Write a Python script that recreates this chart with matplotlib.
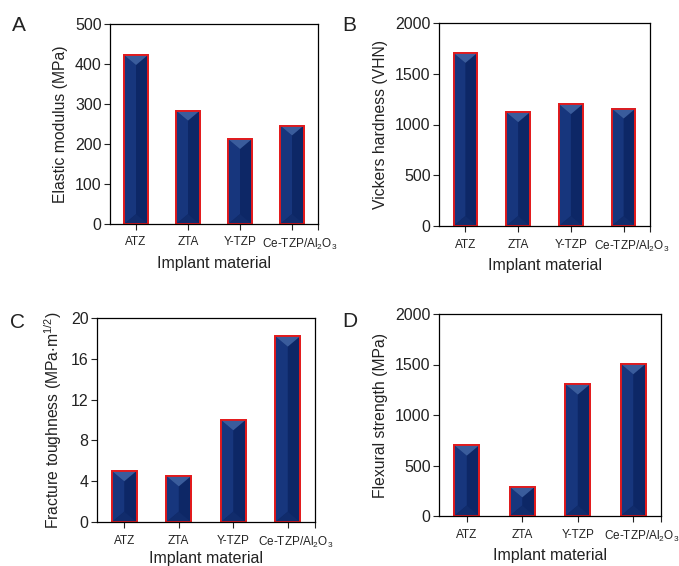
import matplotlib
matplotlib.use('Agg')
import matplotlib.pyplot as plt
import matplotlib.transforms as mtransforms
from matplotlib.patches import Polygon
import numpy as np

plt.rcParams['font.family'] = ['Liberation Sans', 'DejaVu Sans']
plt.rcParams['mathtext.default'] = 'regular'
plt.rcParams['text.color'] = '#222222'
plt.rcParams['axes.labelcolor'] = '#222222'
plt.rcParams['xtick.color'] = '#222222'
plt.rcParams['ytick.color'] = '#222222'

materials = ['ATZ', 'ZTA', 'Y-TZP', 'Ce-TZP/Al$_2$O$_3$']
elastic_modulus = [422, 283, 212, 246]
vickers_hardness = [1705, 1121, 1200, 1157]
fracture_toughness = [5.0, 4.5, 10.0, 18.2]
flexural_strength = [701, 288, 1306, 1507]

W, H = 679, 566
fig = plt.figure(figsize=(W / 100, H / 100), dpi=100)


def px_axes(left, right, top, bottom):
    return fig.add_axes([left / W, 1 - bottom / H, (right - left) / W, (bottom - top) / H])


panels = [
    (px_axes(110, 318, 24, 224), elastic_modulus, 'Elastic modulus (MPa)', 500, 100, 'A', (12, 31), 3),
    (px_axes(439, 650, 23, 226), vickers_hardness, 'Vickers hardness (VHN)', 2000, 500, 'B', (342, 31), 3),
    (px_axes(97, 315, 318, 522), fracture_toughness, 'Fracture toughness (MPa$\\cdot$m$^{1/2}$)', 20, 4, 'C', (10, 328), 1),
    (px_axes(439, 661, 314, 516), flexural_strength, 'Flexural strength (MPa)', 2000, 500, 'D', (342, 327), 3),
]

bw = 0.45
x = np.arange(len(materials))

for ax, vals, ylabel, ymax, step, letter, lpos, xpad in panels:
    ax.set_xlim(-0.5, 3.5)
    ax.set_ylim(0, ymax)
    ax.bar(x, vals, width=bw, color='#0d2766', edgecolor='#e31a1c', linewidth=1.3, zorder=2)

    # bevel shading, sized in pixels of this axes
    bb = ax.get_window_extent()
    y_per_px = ymax / bb.height
    x_per_px = 4.0 / bb.width
    bw_px = bw / x_per_px
    depth = 0.42 * bw_px * y_per_px
    for xi, v in zip(x, vals):
        l, r, c = xi - bw / 2, xi + bw / 2, xi
        ax.add_patch(Polygon([(l, 0), (c, depth), (c, v - depth), (l, v)],
                             closed=True, facecolor='#17367d', edgecolor='none', zorder=2.1))
        ax.add_patch(Polygon([(l, v), (r, v), (c, v - depth)],
                             closed=True, facecolor='#3a5c9c', edgecolor='none', zorder=2.2))
        ax.add_patch(Polygon([(l, 0), (r, 0), (c, depth)],
                             closed=True, facecolor='#112c6c', edgecolor='none', zorder=2.2))
        ax.bar(xi, v, width=bw, facecolor='none', edgecolor='#e31a1c', linewidth=1.3, zorder=2.5)

    ax.set_yticks(np.arange(0, ymax + step, step))
    ax.set_xticks(list(x) + [3.5])
    ax.set_xticklabels(materials + [''])
    ax.tick_params(axis='x', labelsize=8.5, length=4, width=0.8, direction='out', pad=5)
    ax.tick_params(axis='y', labelsize=11.5, length=4, width=0.8, direction='out', pad=2)
    # last label sits a little right of its tick, as in the source figure
    shift = mtransforms.ScaledTranslation(8 / 100, 0, fig.dpi_scale_trans)
    last = ax.get_xticklabels()[3]
    last.set_transform(last.get_transform() + shift)
    for s in ax.spines.values():
        s.set_linewidth(0.9)
        s.set_color('black')
    ax.set_xlabel('Implant material', fontsize=11.5, labelpad=xpad)
    ax.set_ylabel(ylabel, fontsize=11.3, labelpad=5)
    fig.text(lpos[0] / W, 1 - lpos[1] / H, letter, fontsize=15, color='#222222')

fig.savefig('out.png', dpi=100)
